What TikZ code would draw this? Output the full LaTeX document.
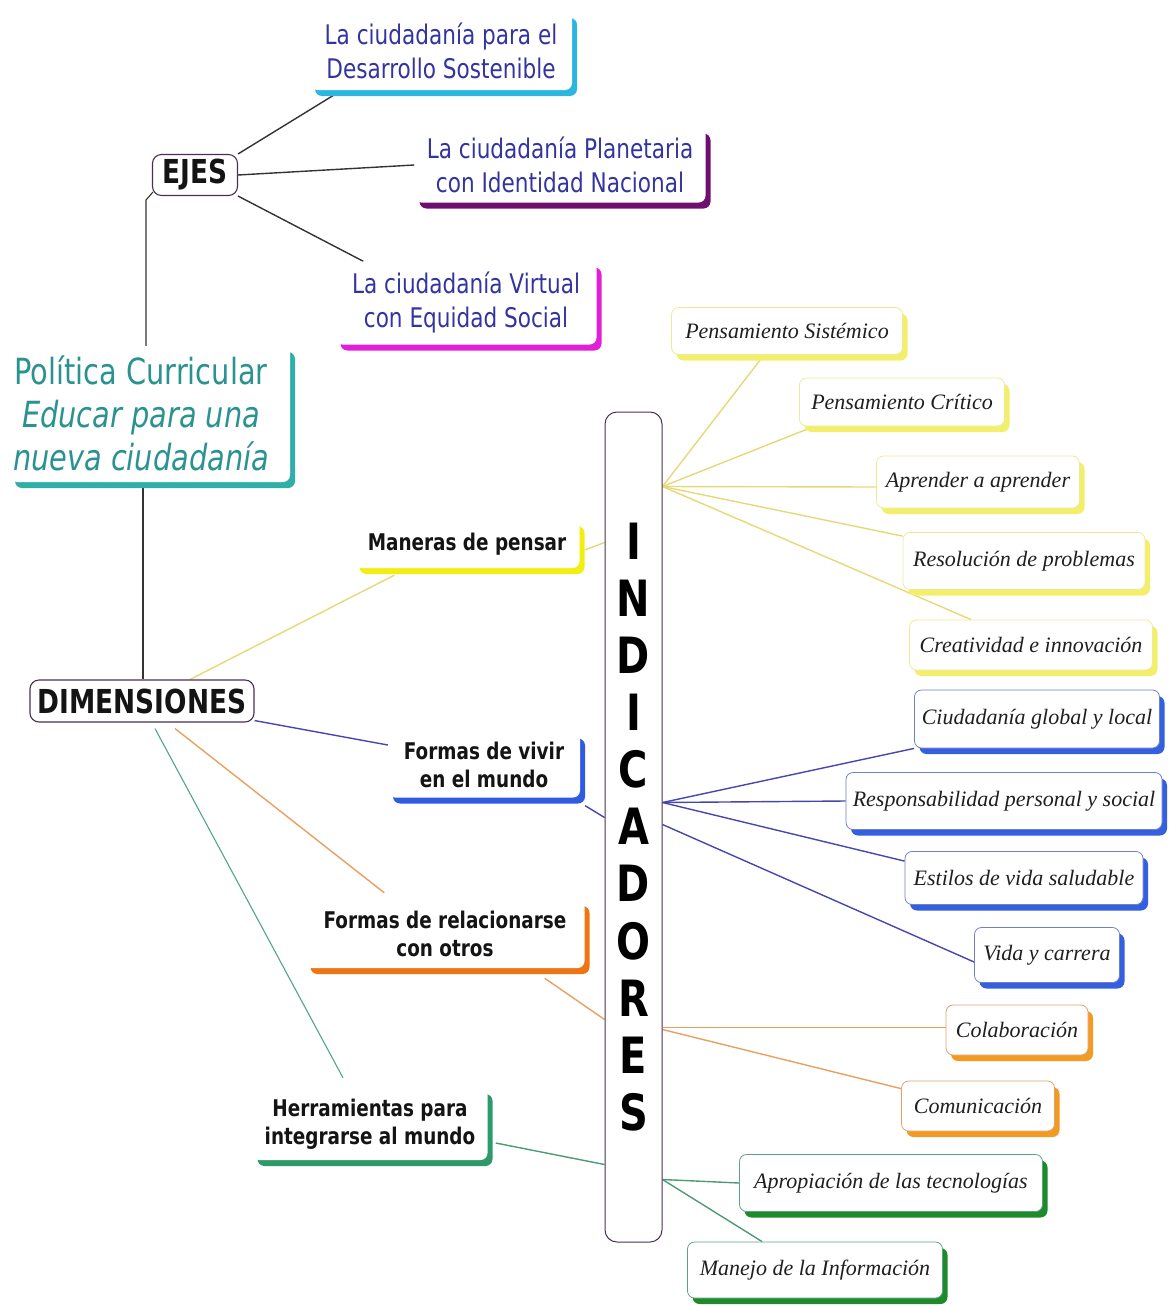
\documentclass[tikz,border=0pt]{standalone}
\usepackage{fontspec}
\setmainfont{DejaVu Sans}[FakeStretch=0.8]
\newfontfamily\handfont{Liberation Serif}
\usetikzlibrary{shadows,calc,backgrounds}

% shadow colours of the cards
\definecolor{shCyan}{HTML}{2BB5DF}
\definecolor{shPurple}{HTML}{6E0F6E}
\definecolor{shMagenta}{HTML}{E21FD8}
\definecolor{shTeal}{HTML}{2FAFA6}
\definecolor{shYellow}{HTML}{F2EE10}
\definecolor{shBlue}{HTML}{2F5BE3}
\definecolor{shOrange}{HTML}{EF7412}
\definecolor{shGreen}{HTML}{2E9A6B}
\definecolor{lfYellow}{HTML}{F3EF6A}
\definecolor{lfBlue}{HTML}{3460E0}
\definecolor{lfOrange}{HTML}{F29A22}
\definecolor{lfGreen}{HTML}{1F8A2A}
% thin borders of the indicator cards
\definecolor{bdYellow}{HTML}{EDEB9A}
\definecolor{bdBlue}{HTML}{7080C8}
\definecolor{bdOrange}{HTML}{E0A070}
\definecolor{bdGreen}{HTML}{5FA08A}
% text and line colours
\definecolor{txTeal}{HTML}{2A9290}
\definecolor{txBlue}{HTML}{3434A0}
\definecolor{lnYellow}{HTML}{E6D878}
\definecolor{lnBlue}{HTML}{4646AE}
\definecolor{lnOrange}{HTML}{E8A062}
\definecolor{lnTeal}{HTML}{4FA58E}
\definecolor{lnGreen}{HTML}{4E9A78}
\definecolor{lnDark}{HTML}{333333}
\definecolor{frameCol}{HTML}{4A3050}

\begin{document}
\begin{tikzpicture}[x=1pt,y=-1pt,
  card/.style={rounded corners=7pt, fill=white, inner sep=0pt, align=center,
    drop shadow={shadow xshift=5pt, shadow yshift=-6pt, fill=#1, opacity=1}},
  leaf/.style n args={2}{card=#1, draw=#2, line width=0.8pt, text=black!88,
    font=\handfont\itshape\fontsize{22}{26}\selectfont},
  roundframe/.style={draw=frameCol, line width=1.1pt, rounded corners=9pt,
    fill=white, inner sep=0pt, text=black!92},
  dimcard/.style={card=#1, text=black!92, font=\bfseries\fontsize{23}{28}\selectfont},
  ejecard/.style={card=#1, text=txBlue, font=\fontsize{27}{34}\selectfont},
  link/.style={line width=1.4pt, draw=#1},
]
\useasboundingbox (0,0) rectangle (1168,1306);

% ---------- axes ----------
\node[roundframe, minimum width=85, minimum height=41,
      font=\bfseries\fontsize{33}{36}\selectfont] (ejes) at (195,175) {EJES};
\node[ejecard=shCyan, minimum width=262, minimum height=78] (d1) at (441,51)
  {La ciudadanía para el\\Desarrollo Sostenible};
\node[ejecard=shPurple, minimum width=291, minimum height=75] (d2) at (560,165)
  {La ciudadanía Planetaria\\con Identidad Nacional};
\node[ejecard=shMagenta, minimum width=261, minimum height=83] (d3) at (466,303)
  {La ciudadanía Virtual\\con Equidad Social};

% ---------- central topic ----------
\node[card=shTeal, minimum width=280, minimum height=136] (pol) at (150,414) {};
\node[align=center, inner sep=0pt, text=txTeal, font=\fontsize{36}{43}\selectfont]
  (poltext) at (141,413)
  {Política Curricular\\\textit{Educar para una}\\\textit{nueva ciudadanía}};

% ---------- dimensions ----------
\node[roundframe, minimum width=224, minimum height=42,
      font=\bfseries\fontsize{33}{36}\selectfont] (dim) at (142,701) {DIMENSIONES};
\node[dimcard=shYellow, minimum width=225, minimum height=48] (man) at (467,544)
  {Maneras de pensar};
\node[dimcard=shBlue, minimum width=192, minimum height=65] (viv) at (484,765)
  {Formas de vivir\\en el mundo};
\node[dimcard=shOrange, minimum width=279, minimum height=68] (rel) at (445,934)
  {Formas de relacionarse\\con otros};
\node[dimcard=shGreen, minimum width=235, minimum height=72] (her) at (370,1124)
  {Herramientas para\\integrarse al mundo};

% ---------- indicator column ----------
\node[draw=frameCol, line width=1pt, rounded corners=12pt, fill=white,
      minimum width=57, minimum height=830, inner sep=0pt, align=center,
      font=\bfseries\fontsize{50}{57.1}\selectfont] (ind) at (633.5,827)
  {I\\N\\D\\I\\C\\A\\D\\O\\R\\E\\S};

% ---------- indicators ----------
\node[leaf={lfYellow}{bdYellow}, minimum width=231, minimum height=47] (ps) at (787,331) {Pensamiento Sistémico};
\node[leaf={lfYellow}{bdYellow}, minimum width=205, minimum height=48] (pc) at (902,402) {Pensamiento Crítico};
\node[leaf={lfYellow}{bdYellow}, minimum width=203, minimum height=52] (aa) at (978,482) {Aprender a aprender};
\node[leaf={lfYellow}{bdYellow}, minimum width=242, minimum height=57] (rp) at (1024,561) {Resolución de problemas};
\node[leaf={lfYellow}{bdYellow}, minimum width=243, minimum height=50] (ci) at (1031,645) {Creatividad e innovación};

\node[leaf={lfBlue}{bdBlue}, minimum width=245, minimum height=58] (cg) at (1037,719) {Ciudadanía global y local};
\node[leaf={lfBlue}{bdBlue}, minimum width=316, minimum height=57] (rs) at (1004,801) {Responsabilidad personal y social};
\node[leaf={lfBlue}{bdBlue}, minimum width=238, minimum height=53] (ev) at (1024,878) {Estilos de vida saludable};
\node[leaf={lfBlue}{bdBlue}, minimum width=145, minimum height=55] (vc) at (1047,955) {Vida y carrera};

\node[leaf={lfOrange}{bdOrange}, minimum width=142, minimum height=50] (co) at (1017,1030) {Colaboración};
\node[leaf={lfOrange}{bdOrange}, minimum width=153, minimum height=50] (cm) at (978,1106) {Comunicación};

\node[leaf={lfGreen}{bdGreen}, minimum width=303, minimum height=57] (at) at (891,1183) {Apropiación de las tecnologías};
\node[leaf={lfGreen}{bdGreen}, minimum width=255, minimum height=56] (mi) at (815,1270) {Manejo de la Información};

% ---------- connectors ----------
\begin{scope}[on background layer]
  % axes
  \draw[link=lnDark] (ejes.north east) -- ($(d1.south west)+(32,0)$);
  \draw[link=lnDark] (ejes.east) -- (d2.west);
  \draw[link=lnDark] (ejes.south east) -- ($(d3.north west)+(28,0)$);
  \coordinate (ejesfoot) at (146,200);
  \draw[link=lnDark, line width=1.1pt] ($(pol.north)+(-4,0)$) -- (ejesfoot) -- ($(ejes.south west)+(1,-4)$);
  \draw[link=lnDark, line width=1.1pt] ($(pol.south)+(-7,0)$) -- ($(dim.north)+(1,0)$);

  % dimensions
  \draw[link=lnYellow] ($(dim.north)+(48,0)$) -- ($(man.south west)+(40,7)$);
  \draw[link=lnYellow] ($(man.east)+(5,6)$) -- ($(ind.north west)+(0,131)$);
  \draw[link=lnBlue] ($(dim.south east)+(0,-2)$) -- ($(viv.west)+(0,-20)$);
  \draw[link=lnBlue] ($(viv.south east)+(5,8)$) -- ($(ind.north west)+(0,406)$);
  \draw[link=lnOrange] ($(dim.south)+(33,6)$) -- ($(rel.north west)+(79,-7)$);
  \draw[link=lnOrange] ($(rel.south east)+(-40,10)$) -- ($(ind.north west)+(0,608)$);
  \draw[link=lnTeal, line width=1.1pt] ($(dim.south)+(13,6)$) -- ($(her.north)+(-27,-10)$);
  \draw[link=lnGreen] ($(her.east)+(8,19)$) -- ($(ind.north west)+(0,753)$);

  % indicator fans
  \coordinate (hubY) at ($(ind.north east)+(0,75)$);
  \draw[link=lnYellow] (hubY) -- ($(ps.south west)+(93,0)$);
  \draw[link=lnYellow] (hubY) -- ($(pc.south west)+(15,0)$);
  \draw[link=lnYellow] (hubY) -- ($(aa.west)+(0,5)$);
  \draw[link=lnYellow] (hubY) -- ($(rp.north west)+(0,4)$);
  \draw[link=lnYellow] (hubY) -- ($(ci.north west)+(62,0)$);

  \coordinate (hubB) at ($(ind.north east)+(0,391)$);
  \coordinate (hubB2) at ($(ind.north east)+(0,413)$);
  \draw[link=lnBlue] (hubB) -- (cg.south west);
  \draw[link=lnBlue] (hubB) -- (rs.west);
  \draw[link=lnBlue] (hubB) -- ($(ev.north west)+(0,10)$);
  \draw[link=lnBlue] (hubB2) -- ($(vc.west)+(0,7)$);

  \coordinate (hubO) at ($(ind.north east)+(0,616)$);
  \draw[link=lnOrange] (hubO) -- (co.west |- hubO);
  \draw[link=lnOrange] ($(hubO)+(0,2)$) -- ($(cm.north west)+(0,8)$);

  \coordinate (hubG) at ($(ind.north east)+(0,768)$);
  \draw[link=lnGreen] (hubG) -- (at.west);
  \draw[link=lnGreen] (hubG) -- ($(mi.north west)+(75,0)$);
\end{scope}
\end{tikzpicture}
\end{document}
